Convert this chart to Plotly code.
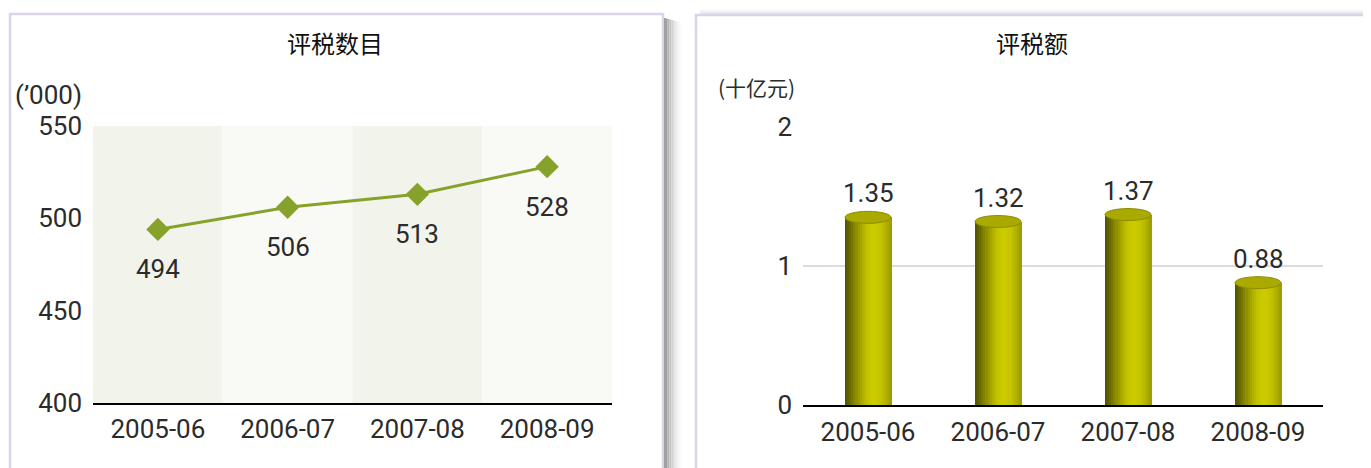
import plotly.graph_objects as go

# ---------------- data ----------------
years = ["2005-06", "2006-07", "2007-08", "2008-09"]
assessments = [494, 506, 513, 528]          # 评税数目 ('000)
left_ticks = [400, 450, 500, 550]
amounts = [1.35, 1.32, 1.37, 0.88]           # 评税额 (十亿元)
right_ticks = [0, 1, 2]

left_title = "评税数目"
right_title = "评税额"
left_unit = "(’000)"
right_unit = "(十亿元)"

# ---------------- style ----------------
OFF = 8                      # page body margin
W, H = 1371 - OFF, 468 - OFF
NUM_FONT = "Roboto, Liberation Sans, sans-serif"
CJK_FONT = "Noto Sans CJK SC, Noto Sans CJK JP, sans-serif"
TXT = "#2b2b2b"
GREEN = "#86a22a"
NUM_SIZE = 26

def px_x(p):
    return (p - OFF) / W

def px_y(p):
    return (H - (p - OFF)) / H

fig = go.Figure()

# ---- left: line chart ----
fig.add_trace(go.Scatter(
    x=years, y=assessments, mode="lines+markers",
    line=dict(color=GREEN, width=3),
    marker=dict(symbol="diamond", size=18, color=GREEN),
    xaxis="x", yaxis="y", showlegend=False, hoverinfo="skip"))

# ---- right: cylinder bars (gradient slices) ----
bar_w = 0.354
grad = ["#565600", "#5f5f00", "#6a6a00", "#777700", "#838300", "#8f8f00",
        "#9b9b00", "#a6a600", "#b0b000", "#b9b900", "#c1c100", "#c6c600",
        "#c9c900", "#cbcb00", "#cbcb00", "#c9c900", "#c5c500", "#c0c000",
        "#b9b900", "#b1b100", "#a8a800", "#9e9e00"]
n = len(grad)
step = bar_w / n
for k, col in enumerate(grad):
    fig.add_trace(go.Bar(
        x=years, y=amounts, width=step * 1.6, offset=-bar_w / 2 + k * step,
        marker=dict(color=col, line=dict(width=0)),
        xaxis="x2", yaxis="y2", showlegend=False, hoverinfo="skip"))

shapes = []
# panel backgrounds / shadows
shadow_cols = ["#8c8c8c", "#a0a0a0", "#b3b3b3", "#c4c4c4", "#d3d3d3",
               "#dfdfdf", "#e9e9e9", "#f1f1f1", "#f7f7f7", "#fbfbfb"]
for i, c in enumerate(shadow_cols):
    shapes.append(dict(type="rect", xref="paper", yref="paper", layer="below",
                       x0=px_x(664 + i * 1.8), x1=px_x(664 + (i + 1) * 1.8),
                       y0=-0.05, y1=px_y(18 + i * 0.5), fillcolor=c, line=dict(width=0)))
top_cols = ["#fbfbfb", "#f7f7f7", "#f2f2f2", "#ececec", "#e6e6e6", "#e0e0e0"]
for i, c in enumerate(top_cols):
    shapes.append(dict(type="rect", xref="paper", yref="paper", layer="below",
                       x0=px_x(700), x1=1.05, y0=px_y(10 + i * 1), y1=px_y(9 + i * 1),
                       fillcolor=c, line=dict(width=0)))
shapes.append(dict(type="rect", xref="paper", yref="paper", layer="below",
                   x0=px_x(10), x1=px_x(663), y0=-0.05, y1=px_y(14),
                   fillcolor="white", line=dict(color="#dcd2ea", width=2.5)))
shapes.append(dict(type="rect", xref="paper", yref="paper", layer="below",
                   x0=px_x(696), x1=1.05, y0=-0.05, y1=px_y(15),
                   fillcolor="white", line=dict(color="#dcd2ea", width=2.5)))
# alternating bands behind left chart
band_cols = ["#f2f4ec", "#f9faf5"]
for i, yr in enumerate(years):
    shapes.append(dict(type="rect", xref="x", yref="y domain", layer="below",
                       x0=i - 0.5, x1=i + 0.5, y0=0, y1=1,
                       fillcolor=band_cols[i % 2], line=dict(width=0)))
# cylinder tops
for i, v in enumerate(amounts):
    shapes.append(dict(type="circle", xref="x2", yref="y2", ysizemode="pixel",
                       yanchor=v, x0=i - bar_w / 2, x1=i + bar_w / 2, y0=-6, y1=6,
                       fillcolor="#a9a900", line=dict(color="#8d8d00", width=1)))

annotations = [
    dict(text=left_title, xref="paper", yref="paper", x=px_x(335), y=px_y(42),
         xanchor="center", yanchor="middle",
         showarrow=False, font=dict(family=CJK_FONT, size=24, color="#111")),
    dict(text=right_title, xref="paper", yref="paper", x=px_x(1032), y=px_y(42),
         xanchor="center", yanchor="middle",
         showarrow=False, font=dict(family=CJK_FONT, size=24, color="#111")),
    dict(text=left_unit, xref="paper", yref="paper", x=px_x(13), y=px_y(95),
         xanchor="left", yanchor="middle", showarrow=False,
         font=dict(family=NUM_FONT, size=NUM_SIZE, color=TXT)),
    dict(text=right_unit, xref="paper", yref="paper", x=px_x(716), y=px_y(87),
         xanchor="left", yanchor="middle", showarrow=False,
         font=dict(family=CJK_FONT, size=21, color=TXT)),
]
for yr, v in zip(years, assessments):
    annotations.append(dict(text=str(v), x=yr, y=v, xref="x", yref="y",
                            yshift=-40, showarrow=False,
                            font=dict(family=NUM_FONT, size=NUM_SIZE, color=TXT)))
for yr, v in zip(years, amounts):
    annotations.append(dict(text=f"{v:.2f}", x=yr, y=v, xref="x2", yref="y2",
                            yshift=24, showarrow=False,
                            font=dict(family=NUM_FONT, size=NUM_SIZE, color=TXT)))

axis_font = dict(family=NUM_FONT, size=NUM_SIZE, color=TXT)
fig.update_layout(
    width=W, height=H, margin=dict(l=0, r=0, t=0, b=0, autoexpand=False),
    paper_bgcolor="white", plot_bgcolor="rgba(0,0,0,0)",
    barmode="overlay", bargap=0,
    shapes=shapes, annotations=annotations,
    xaxis=dict(domain=[px_x(93), px_x(612)], type="category", range=[-0.5, 3.5],
               showline=True, linecolor="black", linewidth=2, showgrid=False,
               zeroline=False, tickfont=axis_font, ticklabelstandoff=2, anchor="y",
               automargin=False),
    yaxis=dict(domain=[px_y(403), px_y(126)], range=[400, 550], tickvals=left_ticks,
               showgrid=False, zeroline=False, showline=False, tickfont=axis_font,
               ticklabelstandoff=10, anchor="x", automargin=False),
    xaxis2=dict(domain=[px_x(803), px_x(1323)], type="category", range=[-0.5, 3.5],
                showline=True, linecolor="black", linewidth=2, showgrid=False,
                zeroline=False, tickfont=axis_font, ticklabelstandoff=3, anchor="y2",
                automargin=False),
    yaxis2=dict(domain=[px_y(405), px_y(127)], range=[0, 2], tickvals=right_ticks,
                showgrid=True, gridcolor="#dcdcdc", gridwidth=2, zeroline=False,
                showline=False, tickfont=axis_font, ticklabelstandoff=10, anchor="x2",
                automargin=False),
)

fig.write_html("out.html")
